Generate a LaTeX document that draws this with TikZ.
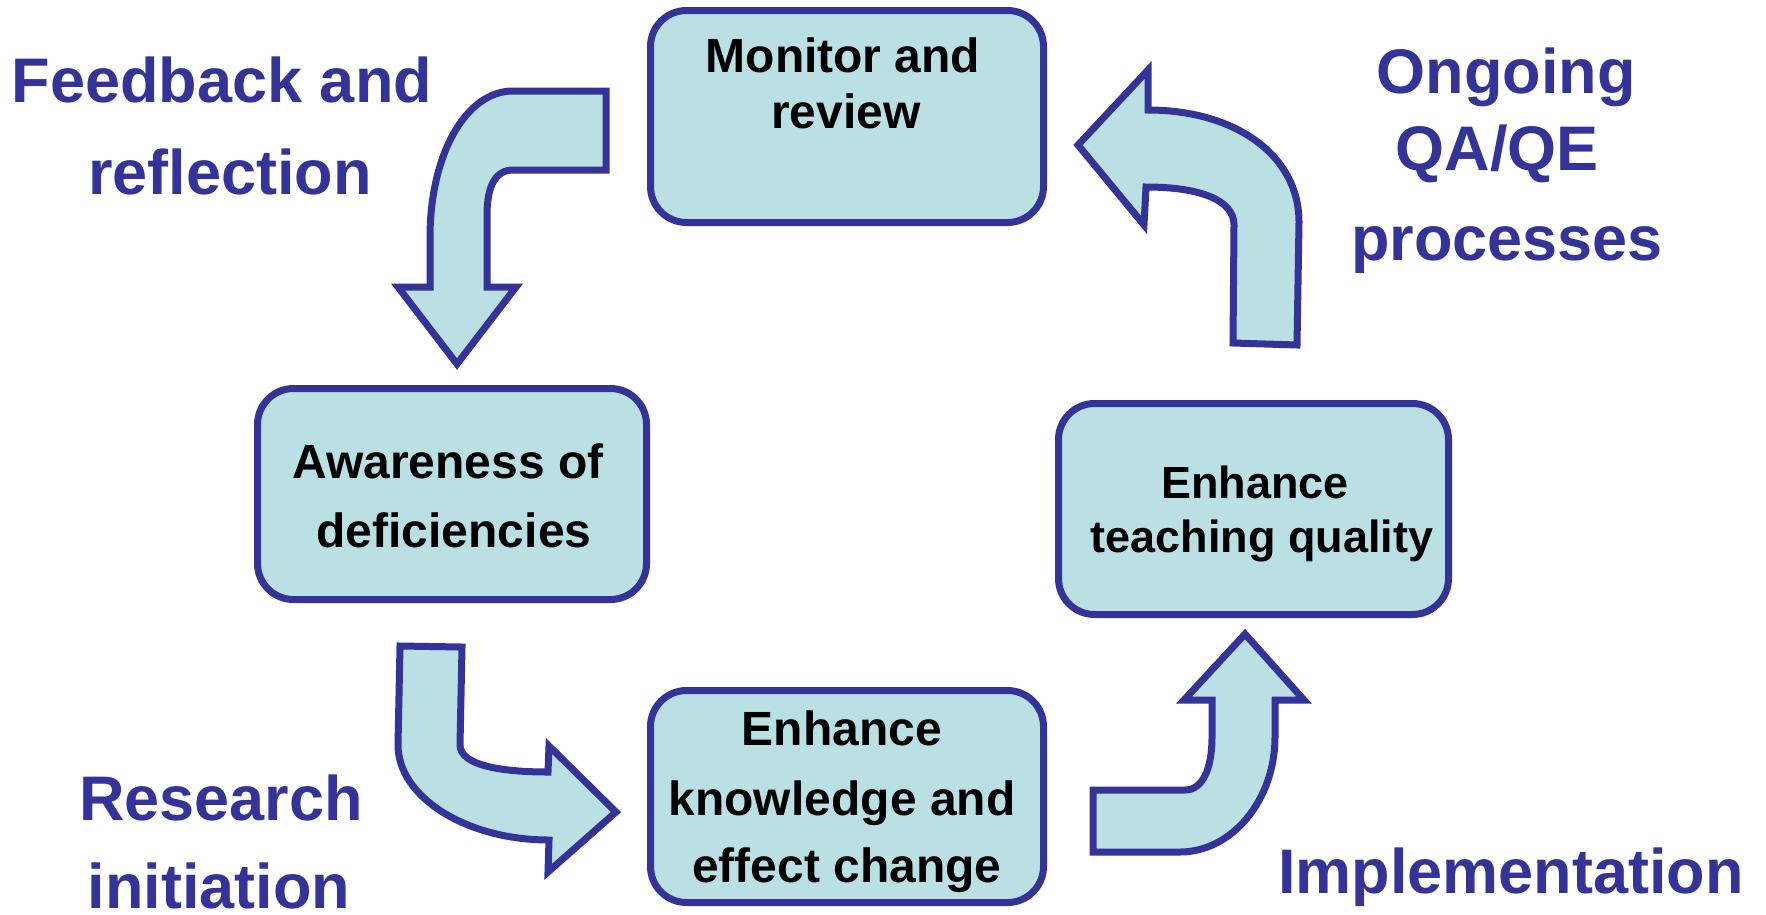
\documentclass[tikz,border=0pt]{standalone}
\usepackage{fontspec}
\setmainfont{Liberation Sans}
\definecolor{edgeblue}{RGB}{51,51,153}
\definecolor{fillblue}{RGB}{186,224,228}
\begin{document}
\begin{tikzpicture}[x=1pt,y=-1pt,
  box/.style={draw=edgeblue, fill=fillblue, line width=7pt, rounded corners=36pt,
              inner sep=0pt, outer sep=0pt},
  boxtext/.style={anchor=base, inner sep=0pt, font=\fontsize{48}{56}\selectfont\bfseries, text=black},
  boxtextsm/.style={anchor=base, inner sep=0pt, font=\fontsize{45}{54}\selectfont\bfseries, text=black},
  lbl/.style={anchor=base, inner sep=0pt, font=\fontsize{63}{76}\selectfont\bfseries, text=edgeblue},
  blockarrow/.style={draw=edgeblue, fill=fillblue, line width=7pt, line join=miter}]
\useasboundingbox (0,0) rectangle (1766,914);

% boxes
\node[box, minimum width=393pt, minimum height=212pt] (monitor) at (847,116.5) {};
\node[box, minimum width=389pt, minimum height=211pt] (aware) at (452,494) {};
\node[box, minimum width=390pt, minimum height=211pt] (teach) at (1253.5,509) {};
\node[box, minimum width=393pt, minimum height=212pt] (know) at (847,796.5) {};

% box texts
\node[boxtext] (m1) at (843,72) {Monitor and};
\node[boxtext] (m2) at (846,128) {review};
\node[boxtext] (a1) at (448,478) {Awareness of};
\node[boxtext] (a2) at (454,547) {deficiencies};
\node[boxtextsm] (t1) at (1255,498) {Enhance};
\node[boxtextsm] (t2) at (1262,552) {teaching quality};
\node[boxtext] (k1) at (842,745) {Enhance};
\node[boxtext] (k2) at (842,815) {knowledge and};
\node[boxtext] (k3) at (847,882) {effect change};

% labels
\node[lbl] (f1) at (222,102) {Feedback and};
\node[lbl] (f2) at (230,194) {reflection};
\node[lbl] (o1) at (1506,93) {Ongoing};
\node[lbl] (o2) at (1497,170) {QA/QE};
\node[lbl] (o3) at (1507,260) {processes};
\node[lbl] (r1) at (221,820) {Research};
\node[lbl] (r2) at (219,908) {initiation};
\node[lbl] (i1) at (1511,893) {Implementation};

% arrow 1: Feedback and reflection (monitor -> awareness)
\draw[blockarrow] (606,91) -- (513,91)
  .. controls (465,91) and (430,156) .. (430,237)
  -- (430,287) -- (398,287) -- (457,364) -- (516,287) -- (487,287)
  -- (487,215) .. controls (487,185) and (496,170) .. (513,170)
  -- (606,170) -- cycle;

% arrow 2: Ongoing QA/QE (teach -> monitor)
\draw[blockarrow] (1233,343) -- (1297,345) -- (1299,222)
  .. controls (1299,155) and (1235,110) .. (1148,110)
  -- (1148,70) -- (1078,145) -- (1144,225) -- (1146,187)
  .. controls (1200,187) and (1234,200) .. (1234,225)
  -- cycle;

% arrow 3: Research initiation (awareness -> knowledge)
\draw[blockarrow] (400,646) -- (462,647) -- (460,745)
  .. controls (460,765) and (500,772) .. (548,772)
  -- (549,746) -- (616,812) -- (548,872) -- (549,840)
  .. controls (466,840) and (398,797) .. (398,745)
  -- cycle;

% arrow 4: Implementation (knowledge -> teach)
\draw[blockarrow] (1093,790) -- (1185,790)
  .. controls (1202,790) and (1212,770) .. (1212,737)
  -- (1212,700) -- (1184,700) -- (1245,634) -- (1304,700) -- (1275,700)
  -- (1275,737) .. controls (1275,800) and (1232,852) .. (1180,852)
  -- (1093,852) -- cycle;
\end{tikzpicture}
\end{document}
